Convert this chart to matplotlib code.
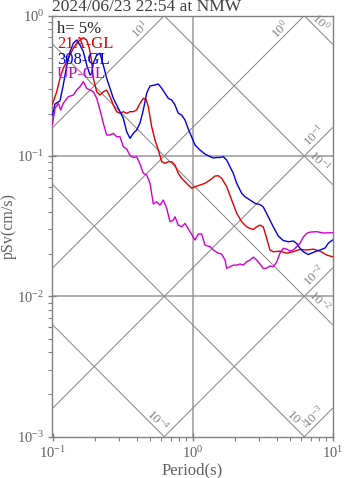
import numpy as np
import matplotlib
matplotlib.use('Agg')
import matplotlib.pyplot as plt
from matplotlib.ticker import LogLocator, NullFormatter

plt.rcParams['font.family'] = ['Liberation Serif', 'DejaVu Serif']
plt.rcParams['mathtext.fontset'] = 'custom'
plt.rcParams['mathtext.rm'] = 'Liberation Serif'
plt.rcParams['mathtext.it'] = 'Liberation Serif:italic'

TITLE = '2024/06/23 22:54 at NMW'
SERIES_NAMES = ['21A-GL', '308-GL', 'UP-GL']
DAMPING_TEXT = 'h= 5%'

RED_T = [0.1, 0.1072, 0.1131, 0.1194, 0.1263, 0.1334, 0.1408, 0.1489, 0.1572, 0.166, 0.1755, 0.1832, 0.1905, 0.1956, 0.2012, 0.2069, 0.2184, 0.2306, 0.2438, 0.2575, 0.2719, 0.2874, 0.3035, 0.3205, 0.3388, 0.3577, 0.3777, 0.3994, 0.4217, 0.4453, 0.4655, 0.4834, 0.4971, 0.5112, 0.5397, 0.57, 0.6026, 0.6363, 0.6716, 0.7102, 0.7499, 0.7916, 0.8373, 0.8841, 0.9333, 0.9869, 1.042, 1.131, 1.228, 1.334, 1.448, 1.529, 1.617, 1.755, 1.905, 2.069, 2.246, 2.438, 2.575, 2.719, 2.874, 3.035, 3.205, 3.388, 3.577, 3.777, 4.217, 4.709, 5.248, 5.861, 6.543, 7.296, 8.142, 9.09, 10.0]
RED_SV = [0.235, 0.287, 0.358, 0.422, 0.470, 0.525, 0.586, 0.636, 0.671, 0.697, 0.671, 0.586, 0.470, 0.358, 0.321, 0.287, 0.272, 0.287, 0.295, 0.265, 0.231, 0.207, 0.2015, 0.207, 0.2015, 0.207, 0.207, 0.213, 0.2375, 0.2577, 0.2537, 0.2245, 0.1906, 0.1617, 0.130, 0.1104, 0.0911, 0.0887, 0.0911, 0.0911, 0.0863, 0.0753, 0.0693, 0.0656, 0.0621, 0.0589, 0.0604, 0.0621, 0.0639, 0.0675, 0.0720, 0.0724, 0.0693, 0.0604, 0.0486, 0.0391, 0.0340, 0.0313, 0.0305, 0.0300, 0.0313, 0.0322, 0.0312, 0.0259, 0.0214, 0.0208, 0.0210, 0.0203, 0.0208, 0.0216, 0.0214, 0.0217, 0.0210, 0.0197, 0.01915]

BLUE_T = [0.1, 0.1042, 0.1131, 0.1194, 0.1263, 0.1334, 0.1408, 0.1489, 0.1572, 0.166, 0.1755, 0.1853, 0.1905, 0.1956, 0.2069, 0.2184, 0.2306, 0.2438, 0.2575, 0.2719, 0.2874, 0.3035, 0.3205, 0.3388, 0.3577, 0.3777, 0.3994, 0.4217, 0.4453, 0.4709, 0.4971, 0.5397, 0.57, 0.6026, 0.6363, 0.6716, 0.7102, 0.7499, 0.7916, 0.8373, 0.8841, 0.9333, 0.9869, 1.042, 1.131, 1.228, 1.334, 1.408, 1.489, 1.572, 1.66, 1.755, 1.853, 1.956, 2.069, 2.246, 2.371, 2.575, 2.796, 3.035, 3.205, 3.479, 3.777, 4.102, 4.453, 4.834, 5.248, 5.551, 5.861, 6.185, 6.716, 7.102, 7.499, 8.142, 8.841, 9.333, 10.0]
BLUE_SV = [0.196, 0.235, 0.247, 0.321, 0.438, 0.554, 0.636, 0.671, 0.618, 0.554, 0.445, 0.378, 0.3886, 0.4577, 0.525, 0.5395, 0.445, 0.358, 0.3039, 0.2577, 0.2309, 0.207, 0.1856, 0.149, 0.1337, 0.1451, 0.1532, 0.1719, 0.213, 0.2812, 0.3155, 0.321, 0.326, 0.3039, 0.2799, 0.2577, 0.2506, 0.2309, 0.2015, 0.196, 0.1805, 0.1558, 0.1366, 0.1198, 0.1104, 0.1033, 0.0992, 0.0968, 0.0976, 0.0976, 0.0989, 0.0936, 0.0839, 0.0753, 0.0639, 0.0542, 0.0513, 0.0486, 0.046, 0.0451, 0.0433, 0.0369, 0.0313, 0.0269, 0.025, 0.0245, 0.0248, 0.0238, 0.022, 0.0208, 0.01986, 0.02035, 0.0208, 0.0214, 0.0221, 0.0239, 0.0252]

MAG_T = [0.1, 0.1042, 0.11, 0.1144, 0.1194, 0.1297, 0.1408, 0.1489, 0.1572, 0.166, 0.1755, 0.1853, 0.1956, 0.2069, 0.2184, 0.2306, 0.2438, 0.2575, 0.2719, 0.2874, 0.3035, 0.3205, 0.3388, 0.3577, 0.3777, 0.3994, 0.4217, 0.4453, 0.4709, 0.4971, 0.5248, 0.5551, 0.5861, 0.6185, 0.6543, 0.6907, 0.7296, 0.7499, 0.7916, 0.8373, 0.8841, 0.9597, 1.042, 1.100, 1.163, 1.228, 1.334, 1.408, 1.529, 1.617, 1.707, 1.755, 1.853, 1.956, 2.069, 2.184, 2.306, 2.438, 2.575, 2.719, 2.874, 3.035, 3.205, 3.388, 3.577, 3.777, 3.994, 4.217, 4.453, 4.709, 4.971, 5.248, 5.551, 5.861, 6.185, 6.543, 6.907, 7.71, 8.596, 10.0]
MAG_SV = [0.169, 0.2188, 0.2375, 0.2128, 0.2375, 0.2647, 0.2721, 0.2954, 0.3119, 0.3386, 0.3039, 0.2954, 0.287, 0.2577, 0.213, 0.1711, 0.1411, 0.1411, 0.1451, 0.1373, 0.1373, 0.1165, 0.1122, 0.1008, 0.0976, 0.0989, 0.0877, 0.0753, 0.0732, 0.0639, 0.0455, 0.0472, 0.0447, 0.0486, 0.0424, 0.034, 0.035, 0.0369, 0.0322, 0.0313, 0.0331, 0.0289, 0.0252, 0.0278, 0.0278, 0.0232, 0.0226, 0.0214, 0.0203, 0.02, 0.01814, 0.01584, 0.01626, 0.0167, 0.0167, 0.017, 0.0167, 0.01765, 0.01814, 0.01905, 0.01814, 0.017, 0.01578, 0.01591, 0.01644, 0.01626, 0.01756, 0.02035, 0.022, 0.02173, 0.021, 0.0214, 0.0226, 0.0239, 0.02647, 0.0281, 0.0287, 0.0289, 0.0283, 0.0284]

# tripartite guide lines: constant pseudo-acceleration and displacement
DIAG_SA = [10, 1, 0.1, 0.01, 0.001]
DIAG_SD = [1, 0.1, 0.01, 0.001, 0.0001]

X_TICKS = [0.1, 1, 10]
X_TICK_LABELS = [r'$\mathregular{10^{-1}}$', r'$\mathregular{10^{0}}$', r'$\mathregular{10^{1}}$']
Y_TICKS = [0.001, 0.01, 0.1, 1]
Y_TICK_LABELS = [r'$\mathregular{10^{-3}}$', r'$\mathregular{10^{-2}}$', r'$\mathregular{10^{-1}}$', r'$\mathregular{10^{0}}$']

W, H = 347, 478
fig = plt.figure(figsize=(W / 100, H / 100), dpi=100)
L, R, T, B = 52.5, 332.5, 15.7, 436.7
ax = fig.add_axes([L / W, 1 - B / H, (R - L) / W, (B - T) / H])
ax.set_xscale('log')
ax.set_yscale('log')
ax.set_xlim(0.1, 10)
ax.set_ylim(0.001, 1)

grid_c = '#999999'
ax.axvline(1, color=grid_c, lw=1.1, zorder=1)
for yv in [0.1, 0.01]:
    ax.axhline(yv, color=grid_c, lw=1.1, zorder=1)

diag_c = '#8a8a8a'
tt = np.logspace(-1, 1, 200)
lab_kw = dict(fontsize=9.5, color='#888888', ha='right', va='bottom', rotation_mode='anchor', zorder=2)
for sa in DIAG_SA:
    ax.plot(tt, sa * tt / (2 * np.pi), color=diag_c, lw=0.75, zorder=1)
    t_top = 2 * np.pi / sa
    if t_top < 10:
        t_exit, d = t_top, 0.085
    else:
        t_exit, d = 10, 0.03
    t_lab = t_exit / 10 ** d
    ax.text(t_lab, sa * t_lab / (2 * np.pi), r'$\mathregular{10^{%d}}$' % round(np.log10(sa)),
            rotation=45, **lab_kw)
for sd in DIAG_SD:
    ax.plot(tt, 2 * np.pi * sd / tt, color=diag_c, lw=0.75, zorder=1)
    t_bot = 2 * np.pi * sd / 0.001
    if t_bot < 10:
        t_exit, d = t_bot, 0.02
    else:
        t_exit, d = 10, 0.07
    t_lab = t_exit / 10 ** d
    ax.text(t_lab, 2 * np.pi * sd / t_lab, r'$\mathregular{10^{%d}}$' % round(np.log10(sd)),
            rotation=-45, **lab_kw)

colors = ['#e00000', '#0000e0', '#d000d0']
for (tv, sv), c in zip([(RED_T, RED_SV), (BLUE_T, BLUE_SV), (MAG_T, MAG_SV)], colors):
    ax.plot(tv, sv, color=c, lw=1.0, zorder=3)

spine_c = '#808080'
for s in ax.spines.values():
    s.set_color(spine_c)
    s.set_linewidth(1.0)

ax.set_xticks(X_TICKS)
ax.set_xticklabels(X_TICK_LABELS)
ax.set_yticks(Y_TICKS)
ax.set_yticklabels(Y_TICK_LABELS)
ax.xaxis.set_minor_locator(LogLocator(base=10, subs=np.arange(2, 10)))
ax.yaxis.set_minor_locator(LogLocator(base=10, subs=np.arange(2, 10)))
ax.xaxis.set_minor_formatter(NullFormatter())
ax.yaxis.set_minor_formatter(NullFormatter())
ax.tick_params(which='major', direction='inout', length=6, width=1.0, color=spine_c,
               labelsize=10.5, labelcolor='#606060', pad=3, top=False, right=False)
ax.tick_params(which='minor', direction='out', length=3, width=0.8, color=spine_c,
               top=False, right=False)

fig.text(L / W, 1 - 11 / H, TITLE, fontsize=12.5, color='#404040', va='baseline', ha='left')
fig.text(192.5 / W, 1 - 474 / H, 'Period(s)', fontsize=12, color='#606060', ha='center', va='baseline')
fig.text(8.5 / W, 1 - 226 / H, 'pSv(cm/s)', fontsize=11.5, color='#606060', ha='center', va='center', rotation=90)

leg_y = [33, 48, 63.5, 78]
for txt, c, yb in zip([DAMPING_TEXT] + SERIES_NAMES, ['#202020'] + colors, leg_y):
    fig.text(57 / W, 1 - yb / H, txt, fontsize=12, color=c, va='baseline', ha='left')

fig.savefig('out.png', dpi=100)
